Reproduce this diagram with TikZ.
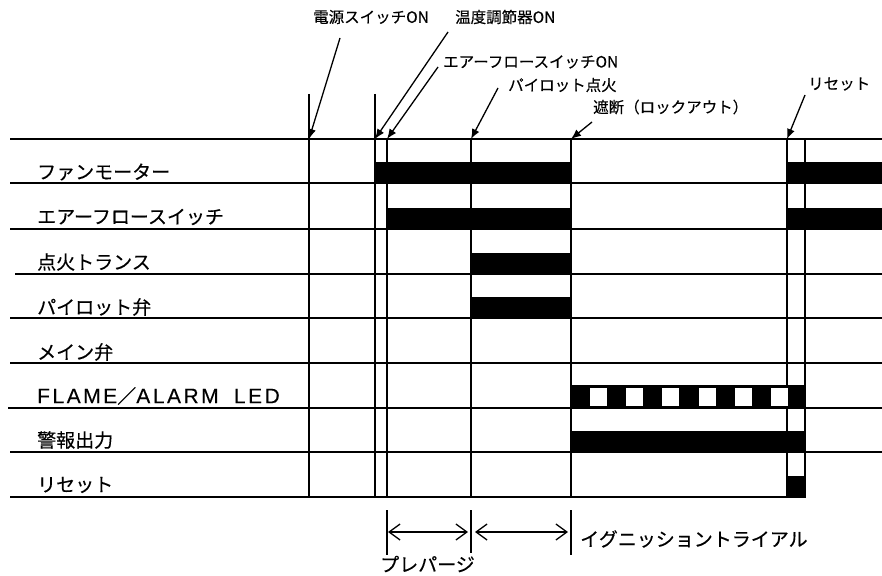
\documentclass[tikz,border=0pt]{standalone}
\usepackage{fontspec}
\setmainfont[FakeBold=0.3]{Noto Sans CJK JP}
\newfontfamily\latinf[LetterSpace=12,FakeBold=0.2]{Liberation Sans}
\usetikzlibrary{arrows.meta}
\tikzset{
  hl/.style={line width=1.3pt},
  vl/.style={line width=1.1pt},
  bar/.style={fill=black,draw=none},
  rowlabel/.style={anchor=west,inner sep=0pt,font=\fontsize{19}{20}\selectfont},
  toplabel/.style={anchor=west,inner sep=0pt,font=\fontsize{15.5}{16}\selectfont},
  callout/.style={line width=1.3pt,-{Latex[length=10pt,width=8pt]}},
  span/.style={line width=1.2pt,{Straight Barb[length=11pt,width=16pt,line width=1.3pt]}-{Straight Barb[length=11pt,width=16pt,line width=1.3pt]}},
}
\begin{document}
\begin{tikzpicture}[x=1pt,y=-1pt]
\useasboundingbox (0,0) rectangle (882,575);
% horizontal lines
\draw[hl] (10,139) -- (882,139);
\draw[hl] (10,183) -- (882,183);
\draw[hl] (10,229) -- (882,229);
\draw[hl] (15,274) -- (882,274);
\draw[hl] (10,318) -- (882,318);
\draw[hl] (10,363) -- (882,363);
\draw[hl] (8,408) -- (882,408);
\draw[hl] (10,452) -- (882,452);
\draw[hl] (10,497) -- (806,497);
% vertical lines
\draw[vl] (309,94) -- (309,497);
\draw[vl] (375,94) -- (375,497);
\draw[vl] (387,139) -- (387,497);
\draw[vl] (471,139) -- (471,497);
\draw[vl] (571,139) -- (571,497);
\draw[vl] (787,139) -- (787,497);
\draw[vl] (805,139) -- (805,497);
% bars
\fill[bar] (375,162) rectangle (571,183);
\fill[bar] (787,162) rectangle (882,183);
\fill[bar] (387,208) rectangle (571,229);
\fill[bar] (787,208) rectangle (882,229);
\fill[bar] (471,253) rectangle (571,274);
\fill[bar] (471,297) rectangle (571,318);
\fill[bar] (571,385) rectangle (806,409);
\foreach \xx in {590,626,662,699,735,771}
  \fill[white] (\xx,388) rectangle (\xx+17,406);
\fill[bar] (572,431) rectangle (806,453);
\fill[bar] (787,476) rectangle (806,497);
% row labels
\node[rowlabel] (r1) at (37,172) {ファンモーター};
\node[rowlabel] (r2) at (37,217) {エアーフロースイッチ};
\node[rowlabel] (r3) at (37,262) {点火トランス};
\node[rowlabel] (r4) at (37,307) {パイロット弁};
\node[rowlabel] (r5) at (37,352) {メイン弁};
\node[rowlabel] (r6) at (37,396) {{\latinf\fontsize{21}{22}\selectfont FLAME}／{\latinf\fontsize{21}{22}\selectfont ALARM}\hspace{0.8em}{\latinf\fontsize{21}{22}\selectfont LED}};
\node[rowlabel] (r7) at (37,440) {警報出力};
\node[rowlabel] (r8) at (37,485) {リセット};
% top labels
\node[toplabel] (l1) at (313,17) {電源スイッチON};
\node[toplabel] (l2) at (455,17) {温度調節器ON};
\node[toplabel] (l3) at (443,62) {エアーフロースイッチON};
\node[toplabel] (l4) at (508,85) {パイロット点火};
\node[toplabel] (l5) at (593,107) {遮断（ロックアウト）};
\node[toplabel] (l6) at (808,84) {リセット};
% callout arrows
\coordinate (s1) at (340,38);  \coordinate (e1) at (309,139);
\coordinate (s2) at (448,32);  \coordinate (e2) at (375,139);
\coordinate (s3) at (438,67);  \coordinate (e3) at (387,139);
\coordinate (s4) at (498,88);  \coordinate (e4) at (471,139);
\coordinate (s5) at (592,122); \coordinate (e5) at (571,139);
\coordinate (s6) at (805,95);  \coordinate (e6) at (787,139);
\draw[callout] (s1) -- (e1);
\draw[callout] (s2) -- (e2);
\draw[callout] (s3) -- (e3);
\draw[callout] (s4) -- (e4);
\draw[callout] (s5) -- (e5);
\draw[callout] (s6) -- (e6);
% bottom spans
\coordinate (ta) at (387,510); \coordinate (tb) at (387,555);
\coordinate (tc) at (471,510); \coordinate (td) at (471,553);
\coordinate (te) at (571,510); \coordinate (tf) at (571,555);
\draw[vl] (ta) -- (tb);
\draw[vl] (tc) -- (td);
\draw[vl] (te) -- (tf);
\coordinate (p1) at (388,532); \coordinate (p2) at (468,532);
\coordinate (p3) at (475,532); \coordinate (p4) at (568,532);
\draw[span] (p1) -- (p2);
\draw[span] (p3) -- (p4);
\node[rowlabel] (b1) at (380,564) {プレパージ};
\node[rowlabel] (b2) at (580,539) {イグニッショントライアル};
\end{tikzpicture}
\end{document}
